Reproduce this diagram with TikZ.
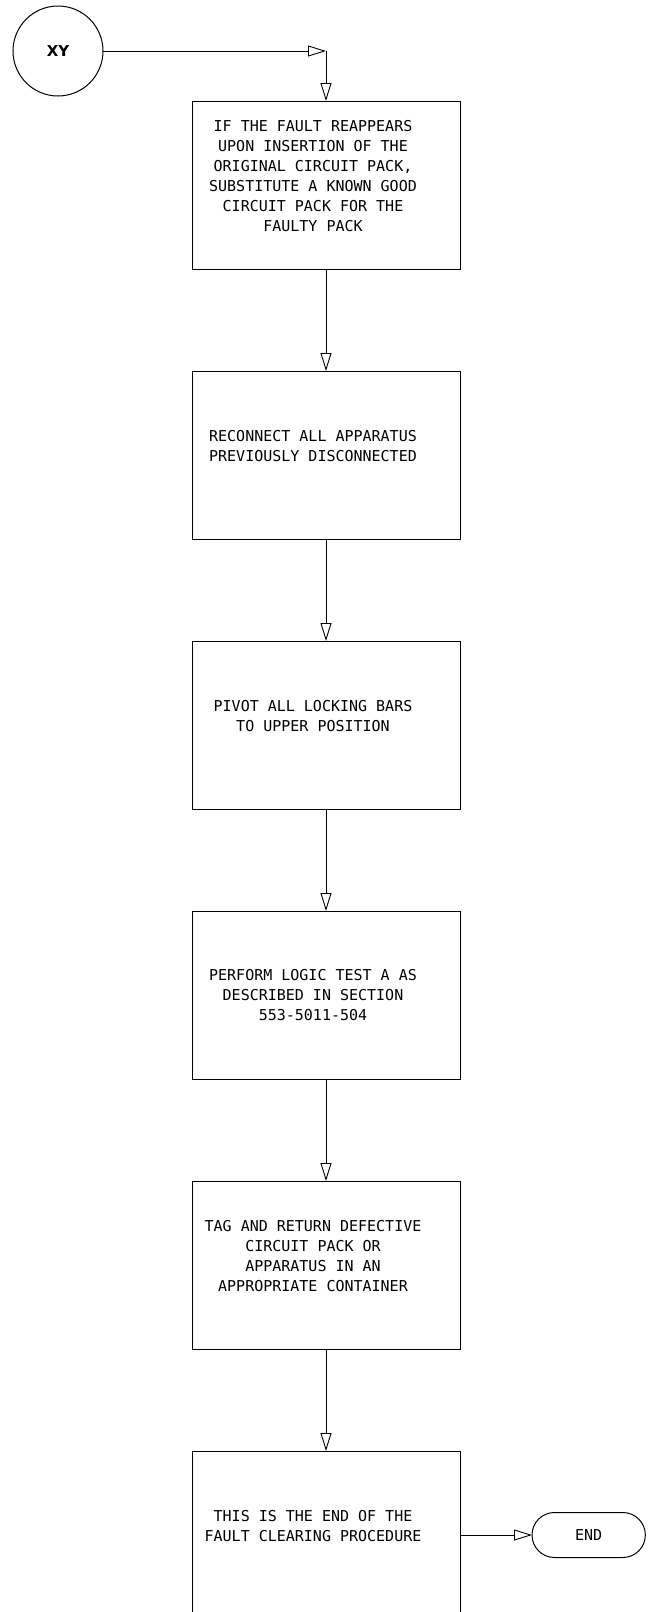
\documentclass[tikz,border=0pt]{standalone}
\usepackage{fontspec}
\setmonofont{DejaVu Sans Mono}
\setsansfont{DejaVu Sans}
\usetikzlibrary{arrows.meta,positioning,shapes.misc}

\begin{document}
\begin{tikzpicture}[
  x=1pt, y=1pt,
  font=\ttfamily\fontsize{15}{20}\selectfont,
  stepbox/.style={draw, line width=1pt, minimum width=268pt, minimum height=168pt,
               inner sep=0pt, outer sep=0pt},
  boxtext/.style={align=center, xshift=-13pt, yshift=#1},
  boxtext/.default=9pt,
  arr/.style={-{Triangle[open, length=18pt, width=11pt]}, line width=0.9pt}
]
\useasboundingbox (0,0) rectangle (651,-1612);
\node[draw, circle, line width=1pt, minimum size=90pt, outer sep=0pt,
      font=\sffamily\bfseries\fontsize{15}{18}\selectfont] (xy) at (58,-51) {XY};
\node[stepbox, label={[boxtext]center:{IF THE FAULT REAPPEARS\\UPON INSERTION OF THE\\ORIGINAL CIRCUIT PACK,\\SUBSTITUTE A KNOWN GOOD\\CIRCUIT PACK FOR THE\\FAULTY PACK}}] (b1) at (326,-185) {};
\node[stepbox, below=102pt of b1, label={[boxtext]center:{RECONNECT ALL APPARATUS\\PREVIOUSLY DISCONNECTED}}] (b2) {};
\node[stepbox, below=102pt of b2, label={[boxtext]center:{PIVOT ALL LOCKING BARS\\TO UPPER POSITION}}] (b3) {};
\node[stepbox, below=102pt of b3, label={[boxtext=0pt]center:{PERFORM LOGIC TEST A AS\\DESCRIBED IN SECTION\\553-5011-504}}] (b4) {};
\node[stepbox, below=102pt of b4, label={[boxtext]center:{TAG AND RETURN DEFECTIVE\\CIRCUIT PACK OR\\APPARATUS IN AN\\APPROPRIATE CONTAINER}}] (b5) {};
\node[stepbox, below=102pt of b5, label={[boxtext]center:{THIS IS THE END OF THE\\FAULT CLEARING PROCEDURE}}] (b6) {};
\node[draw, rounded rectangle, line width=1pt, minimum width=120pt, minimum height=45pt,
      outer sep=0pt, right=72pt of b6] (end) {END};
\coordinate (cj) at (b1.north |- xy.east);
\draw[arr] (xy) -- (cj);
\draw[arr] (cj) -- (b1);
\draw[arr] (b1) -- (b2);
\draw[arr] (b2) -- (b3);
\draw[arr] (b3) -- (b4);
\draw[arr] (b4) -- (b5);
\draw[arr] (b5) -- (b6);
\draw[arr] (b6) -- (end);
\end{tikzpicture}
\end{document}
